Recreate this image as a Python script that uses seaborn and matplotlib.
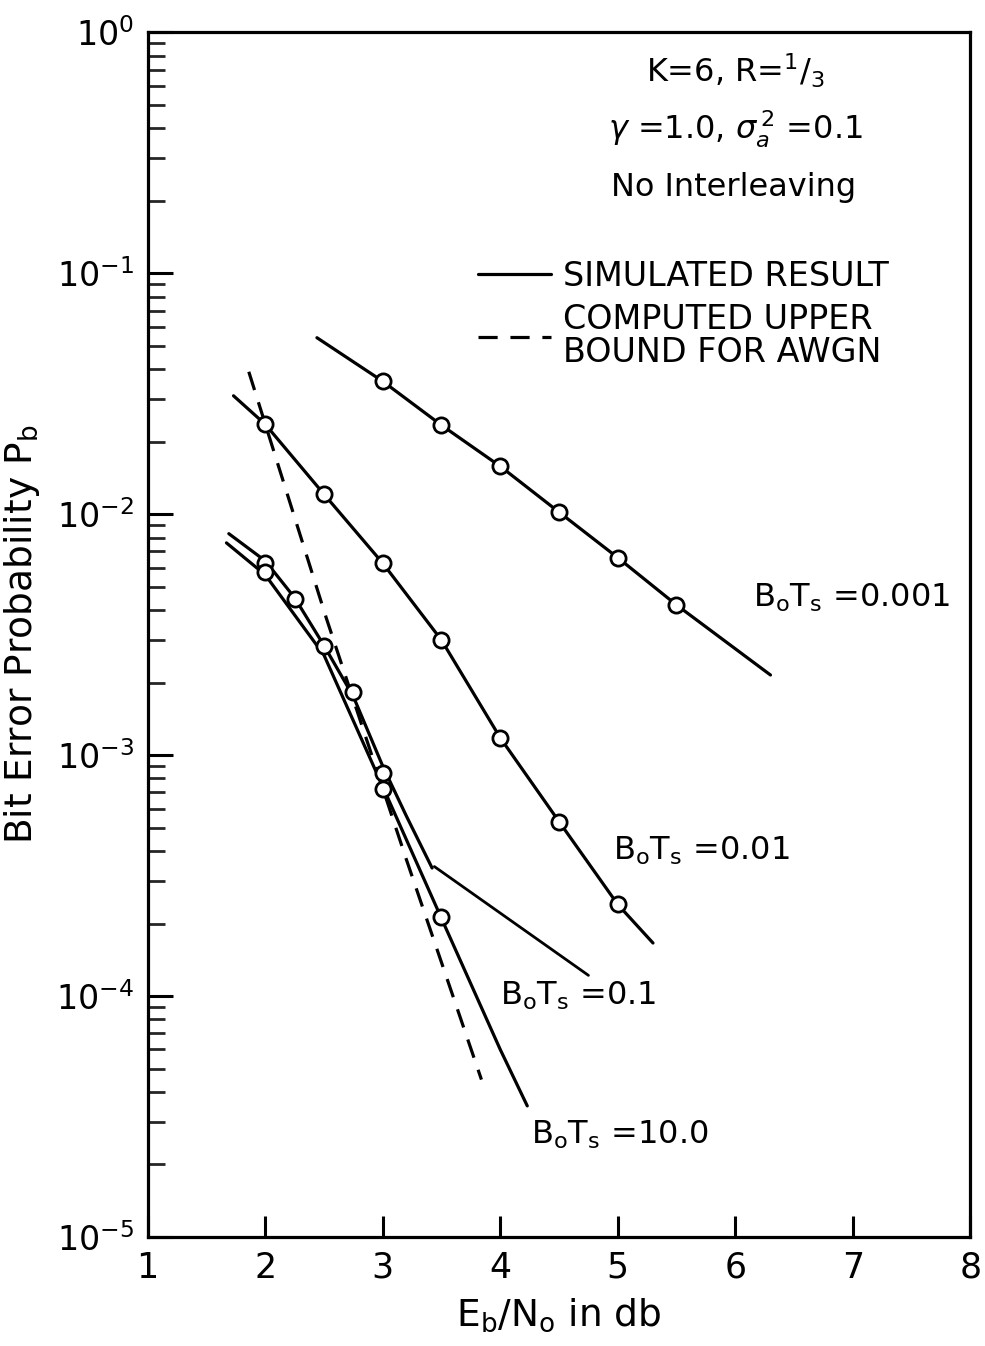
import numpy as np
import matplotlib
matplotlib.use('Agg')
import matplotlib.pyplot as plt
import seaborn as sns
from matplotlib.lines import Line2D
from matplotlib.ticker import LogLocator, NullFormatter, FixedLocator

# --- data ---
# B0Ts = 0.001
x_001_line = [2.44, 3.0, 3.5, 4.0, 4.5, 5.0, 5.5, 6.3]
y_001_line = [5.4e-2, 3.56e-2, 2.34e-2, 1.58e-2, 1.02e-2, 6.6e-3, 4.2e-3, 2.15e-3]
x_001_pts = [3.0, 3.5, 4.0, 4.5, 5.0, 5.5]
y_001_pts = [3.56e-2, 2.34e-2, 1.58e-2, 1.02e-2, 6.6e-3, 4.2e-3]

# B0Ts = 0.01
x_01_line = [1.73, 2.0, 2.5, 3.0, 3.5, 4.0, 4.5, 5.0, 5.3]
y_01_line = [3.1e-2, 2.36e-2, 1.21e-2, 6.26e-3, 3.0e-3, 1.18e-3, 5.3e-4, 2.4e-4, 1.66e-4]
x_01_pts = [2.0, 2.5, 3.0, 3.5, 4.0, 4.5, 5.0]
y_01_pts = [2.36e-2, 1.21e-2, 6.26e-3, 3.0e-3, 1.18e-3, 5.3e-4, 2.4e-4]

# B0Ts = 0.1
x_1_line = [1.69, 2.0, 2.25, 2.5, 2.75, 3.0, 3.2, 3.42]
y_1_line = [8.3e-3, 6.4e-3, 4.5e-3, 2.85e-3, 1.75e-3, 9.0e-4, 5.6e-4, 3.4e-4]
x_1_pts = [2.0, 2.25, 2.5, 2.75, 3.0]
y_1_pts = [6.26e-3, 4.46e-3, 2.83e-3, 1.82e-3, 8.4e-4]

# B0Ts = 10.0
x_10_line = [1.67, 2.0, 2.5, 3.0, 3.5, 4.0, 4.23]
y_10_line = [7.6e-3, 5.6e-3, 2.6e-3, 7.4e-4, 2.1e-4, 6.0e-5, 3.5e-5]
x_10_pts = [2.0, 3.0, 3.5]
y_10_pts = [5.75e-3, 7.2e-4, 2.13e-4]

# computed upper bound for AWGN
x_awgn = [1.86, 2.52, 3.2, 3.84]
y_awgn = [3.9e-2, 3.7e-3, 3.7e-4, 4.5e-5]

curve_labels = ['0.001', '0.01', '0.1', '10.0']
label_x = [6.15, 4.96, 4.0, 4.26]
label_y = [4.5e-3, 4.0e-4, 1.0e-4, 2.65e-5]

x_ticks = [1, 2, 3, 4, 5, 6, 7, 8]

sns.set_style('ticks')
plt.rcParams['font.family'] = ['DejaVu Sans']
plt.rcParams['mathtext.fontset'] = 'dejavusans'
plt.rcParams['text.color'] = 'k'
plt.rcParams['axes.labelcolor'] = 'k'

fig = plt.figure(figsize=(9.85, 13.46), dpi=100)
ax = fig.add_axes([0.150, 0.081, 0.835, 0.895])

lw = 2.3
for xl, yl in [(x_001_line, y_001_line), (x_01_line, y_01_line),
               (x_1_line, y_1_line), (x_10_line, y_10_line)]:
    sns.lineplot(x=xl, y=yl, color='k', lw=lw, sort=False, ax=ax)
sns.lineplot(x=x_awgn, y=y_awgn, color='k', lw=lw, sort=False,
             linestyle=(0, (6, 4)), ax=ax)

for xp, yp in [(x_001_pts, y_001_pts), (x_01_pts, y_01_pts),
               (x_1_pts, y_1_pts), (x_10_pts, y_10_pts)]:
    sns.scatterplot(x=xp, y=yp, marker='o', s=120, facecolor='white',
                    edgecolor='k', linewidth=2, zorder=5, ax=ax)

ax.set_yscale('log')
ax.set_xlim(1, 8)
ax.set_ylim(1e-5, 1)
ax.xaxis.set_major_locator(FixedLocator(x_ticks))
ax.yaxis.set_major_locator(LogLocator(base=10, numticks=10))
ax.yaxis.set_minor_locator(LogLocator(base=10, subs=np.arange(2, 10), numticks=20))
ax.yaxis.set_minor_formatter(NullFormatter())
ax.tick_params(axis='both', which='major', direction='in', width=2.2,
               pad=10, color='k', labelcolor='k')
ax.tick_params(axis='y', which='major', length=18, labelsize=24)
ax.tick_params(axis='x', which='major', length=15, labelsize=25)
ax.tick_params(axis='y', which='minor', direction='in', length=12, width=2)
ax.tick_params(axis='x', which='minor', length=0)
for sp in ax.spines.values():
    sp.set_linewidth(2.3)
    sp.set_color('k')

ax.set_xlabel(r'E$_\mathrm{b}$/N$_\mathrm{o}$ in db', fontsize=27, labelpad=8)
ax.set_ylabel(r'Bit Error Probability P$_\mathrm{b}$', fontsize=27, labelpad=10)

# parameter block
ax.text(0.714, 0.968, r'K=6, R=$^{1}/_{3}$', transform=ax.transAxes,
        ha='center', va='center', fontsize=23)
ax.text(0.714, 0.920, r'$\gamma$ =1.0, $\sigma_a^{\,2}$ =0.1', transform=ax.transAxes,
        ha='center', va='center', fontsize=23)
ax.text(0.712, 0.871, 'No Interleaving', transform=ax.transAxes,
        ha='center', va='center', fontsize=23)

handles = [Line2D([], [], color='k', lw=lw),
           Line2D([], [], color='k', lw=lw, linestyle=(0, (6, 4)))]
leg = ax.legend(handles, ['SIMULATED RESULT', 'COMPUTED UPPER\nBOUND FOR AWGN'],
                loc='upper left', bbox_to_anchor=(0.385, 0.822), frameon=False,
                fontsize=24, handlelength=2.2, handletextpad=0.35, labelspacing=0.3,
                borderaxespad=0)
leg.get_texts()[1].set_linespacing(1.0)

for lab, lx, ly in zip(curve_labels, label_x, label_y):
    ax.text(lx, ly, r'B$_\mathrm{o}$T$_\mathrm{s}$ =' + lab, ha='left', va='center',
            fontsize=23)

# leader line for the B0Ts = 0.1 label
ax.annotate('', xy=(3.42, 3.5e-4), xytext=(4.77, 1.2e-4),
            arrowprops=dict(arrowstyle='-', lw=2, color='k'))

fig.savefig('out.png', dpi=100)
